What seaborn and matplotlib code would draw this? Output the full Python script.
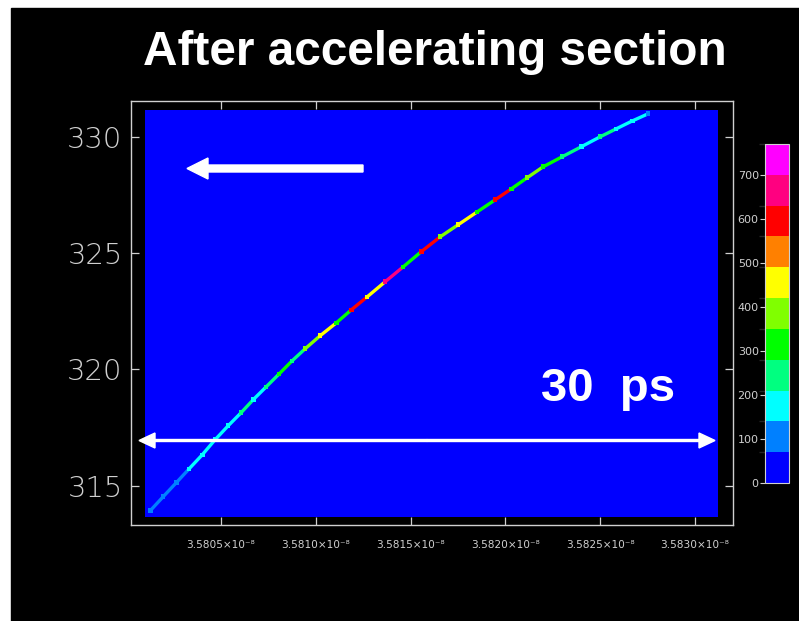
import matplotlib
matplotlib.use("Agg")
import matplotlib.pyplot as plt
import matplotlib.colors as mcolors
import matplotlib.patches as mpatches
from matplotlib.collections import LineCollection
import numpy as np
import pandas as pd
import seaborn as sns

# ---- Data ----
# bunch track: time (x 1e-8 s), energy, counts per bin
t_pts = [3.580126, 3.580194, 3.580263, 3.580331, 3.580400, 3.580468, 3.580537,
         3.580605, 3.580669, 3.580737, 3.580806, 3.580874, 3.580943, 3.581022,
         3.581107, 3.581186, 3.581270, 3.581365, 3.581460, 3.581555, 3.581655,
         3.581750, 3.581850, 3.581945, 3.582030, 3.582114, 3.582198, 3.582298,
         3.582399, 3.582499, 3.582583, 3.582668, 3.582752]
e_pts = [313.92, 314.52, 315.12, 315.72, 316.32, 316.97, 317.57,
         318.13, 318.69, 319.24, 319.80, 320.36, 320.88, 321.44,
         321.99, 322.55, 323.11, 323.76, 324.40, 325.05, 325.69,
         326.21, 326.76, 327.28, 327.75, 328.23, 328.70, 329.13,
         329.56, 329.99, 330.33, 330.67, 330.98]
counts = [80, 120, 100, 170, 150, 200, 170,
          230, 160, 260, 300, 240, 360, 420,
          300, 600, 450, 650, 330, 560, 380,
          440, 320, 590, 300, 360, 280, 230,
          200, 240, 180, 150, 100]

x_ticks = [3.5805, 3.5810, 3.5815, 3.5820, 3.5825, 3.5830]
x_ticklabels = ["3.5805×10⁻⁸", "3.5810×10⁻⁸", "3.5815×10⁻⁸",
                "3.5820×10⁻⁸", "3.5825×10⁻⁸", "3.5830×10⁻⁸"]
y_ticks = [315, 320, 325, 330]
cbar_ticks = [0, 100, 200, 300, 400, 500, 600, 700]
level_bounds = [0, 70, 140, 210, 280, 350, 420, 490, 560, 630, 700, 770]
level_colors = ["#0000ff", "#0080ff", "#00ffff", "#00ff80", "#00ff00", "#80ff00",
                "#ffff00", "#ff8000", "#ff0000", "#ff0080", "#ff00ff"]

# histogram window and frame
hist_t = [3.580099, 3.583121]
hist_e = [313.66, 331.15]
x_lim = (3.580025, 3.583200)
y_lim = (313.31, 331.53)

W, H = 799, 621
fg = "#d0d0d0"

sns.set_theme(style="white")
plt.rcParams["font.family"] = ["DejaVu Sans"]

cmap = mcolors.ListedColormap(level_colors)
norm = mcolors.BoundaryNorm(level_bounds, cmap.N)

fig = plt.figure(figsize=(W / 100, H / 100), dpi=100, facecolor="white")
fig.patches.append(mpatches.Rectangle((11 / W, 0), 1, 1 - 8 / H, transform=fig.transFigure,
                                      color="black", zorder=-10))

ax = fig.add_axes([131 / W, 1 - 525 / H, (733 - 131) / W, (525 - 101) / H])
ax.set_facecolor("black")

# zero-count background of the histogram
ax.pcolormesh(hist_t, hist_e, [[0]], cmap=cmap, norm=norm, zorder=1)

df = pd.DataFrame({"t": t_pts, "e": e_pts, "n": counts})
pts = df[["t", "e"]].to_numpy()
segs = np.stack([pts[:-1], pts[1:]], axis=1)
lc = LineCollection(segs, colors=cmap(norm(df["n"].to_numpy()[:-1])), linewidths=2.4, zorder=2)
ax.add_collection(lc)
sns.scatterplot(data=df, x="t", y="e", hue="n", palette=cmap, hue_norm=norm,
                marker="s", s=12, linewidth=0, legend=False, ax=ax, zorder=3)

ax.set_xlim(*x_lim)
ax.set_ylim(*y_lim)
ax.set_xticks(x_ticks)
ax.set_xticklabels(x_ticklabels, fontsize=7.6, color=fg)
ax.set_yticks(y_ticks)
ax.set_yticklabels([str(v) for v in y_ticks], fontsize=21, color=fg, fontweight="ultralight")
ax.set_xlabel("")
ax.set_ylabel("")
ax.tick_params(axis="both", direction="in", length=6, width=0.9, color=fg,
               top=True, right=True, bottom=True, left=True)
ax.tick_params(axis="x", pad=11)
ax.tick_params(axis="y", pad=6)
for s in ax.spines.values():
    s.set_color(fg)
    s.set_linewidth(1.0)
    s.set_visible(True)

# colour scale
cax = fig.add_axes([765 / W, 1 - 483 / H, 24 / W, 339 / H])
sm = plt.cm.ScalarMappable(norm=norm, cmap=cmap)
cb = fig.colorbar(sm, cax=cax, ticks=cbar_ticks)
cb.outline.set_edgecolor(fg)
cb.outline.set_linewidth(0.8)
cax.yaxis.set_ticks_position("left")
cax.yaxis.set_label_position("left")
cax.tick_params(axis="y", direction="out", length=3.5, width=0.8, color=fg,
                labelcolor=fg, labelsize=8, pad=1)

# annotations
def fx(p):
    return p / W

def fy(p):
    return 1 - p / H

fig.patches.append(mpatches.FancyArrow(fx(363), fy(168.5), fx(187) - fx(363), 0,
                                       width=7 / H, head_width=21 / H, head_length=21 / W,
                                       length_includes_head=True, color="white",
                                       transform=fig.transFigure, zorder=5))
for end in (139, 715):
    fig.patches.append(mpatches.FancyArrow(fx(427), fy(440.5), fx(end) - fx(427), 0,
                                           width=2 / H, head_width=15 / H, head_length=16 / W,
                                           length_includes_head=True, color="white",
                                           transform=fig.transFigure, zorder=5))

fig.text(fx(541), fy(401), "30  ps", color="white", fontsize=34, fontweight="bold",
         family=["Liberation Sans", "DejaVu Sans"], ha="left", va="baseline")
fig.text(fx(435), fy(65), "After accelerating section", color="white", fontsize=34.4,
         fontweight="bold", family=["Liberation Sans", "DejaVu Sans"],
         ha="center", va="baseline")

fig.savefig("out.png", dpi=100, facecolor=fig.get_facecolor())
